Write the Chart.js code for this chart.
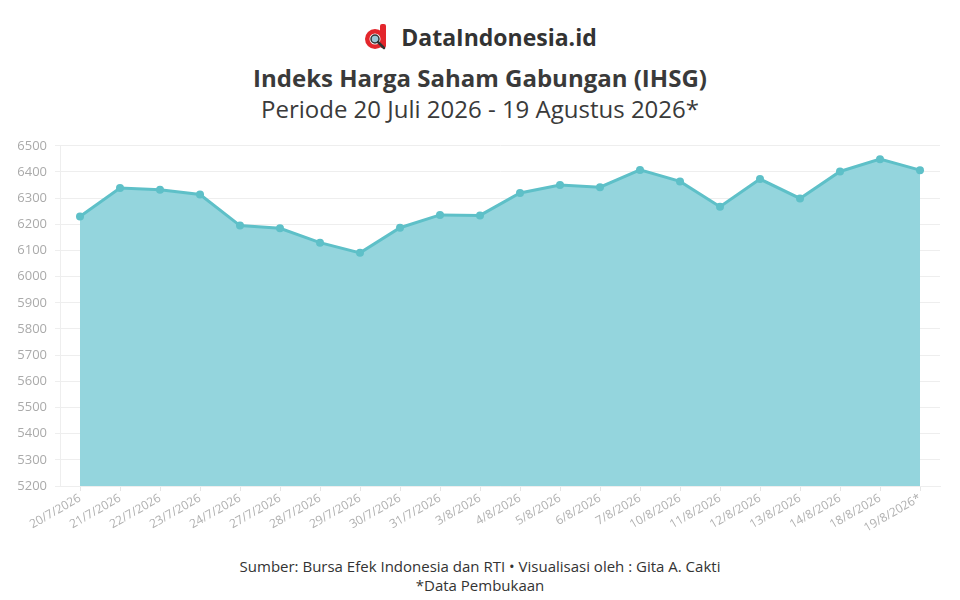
<!DOCTYPE html>
<html>
<head>
<meta charset="utf-8">
<script src="https://cdn.jsdelivr.net/npm/chart.js@4"></script>
<style>
    body { margin: 0; background: #fff; font-family: "Open Sans", sans-serif; }
    .page { position: relative; width: 960px; height: 600px; overflow: hidden; }
    .brand { position: absolute; top: 21px; left: 0; width: 960px; text-align: center; }
    .brand svg { vertical-align: middle; margin-right: 12px; }
    .brand span { vertical-align: middle; font-size: 23px; font-weight: 700; color: #333; }
    .title { position: absolute; top: 61px; width: 960px; text-align: center; font-size: 24px; font-weight: 700; color: #3a3a3a; }
    .subtitle { position: absolute; top: 92px; width: 960px; text-align: center; font-size: 24px; color: #3a3a3a; }
    .chart-box { position: absolute; top: 130px; left: 0; width: 960px; height: 415px; }
    .footer { position: absolute; top: 557px; width: 960px; text-align: center; font-size: 15px; color: #333; line-height: 19px; }
</style>
</head>
<body>
<div class="page">
    <div class="brand">
        <svg width="26" height="28" viewBox="0 0 26 28">
            <rect x="17" y="1" width="6" height="24" rx="2" fill="#e3262c"/>
            <circle cx="12" cy="16" r="10" fill="#e3262c"/>
            <circle cx="12" cy="16" r="5.5" fill="#fff"/>
            <circle cx="12" cy="16" r="4" fill="#9cc8d8" stroke="#333" stroke-width="1.5"/>
            <line x1="15" y1="19" x2="21" y2="25" stroke="#333" stroke-width="2.5" stroke-linecap="round"/>
        </svg><span>DataIndonesia.id</span>
    </div>
    <div class="title">Indeks Harga Saham Gabungan (IHSG)</div>
    <div class="subtitle">Periode 20 Juli 2026 - 19 Agustus 2026*</div>
    <div class="chart-box"><canvas id="ihsg-chart"></canvas></div>
    <div class="footer">Sumber: Bursa Efek Indonesia dan RTI • Visualisasi oleh : Gita A. Cakti<br>*Data Pembukaan</div>
</div>
<script>
// Data
const dates = [
    '20/7/2026', '21/7/2026', '22/7/2026', '23/7/2026', '24/7/2026', '27/7/2026',
    '28/7/2026', '29/7/2026', '30/7/2026', '31/7/2026', '3/8/2026', '4/8/2026',
    '5/8/2026', '6/8/2026', '7/8/2026', '10/8/2026', '11/8/2026', '12/8/2026',
    '13/8/2026', '14/8/2026', '18/8/2026', '19/8/2026*'
];
const ihsgValues = [
    6230, 6339, 6332, 6314, 6195, 6185,
    6130, 6091, 6187, 6236, 6234, 6320,
    6350, 6342, 6408, 6364, 6267, 6373,
    6299, 6402, 6449, 6407
];
const yMin = 5200;
const yMax = 6500;
const yStep = 100;

const ctx = document.getElementById('ihsg-chart');
new Chart(ctx, {
    type: 'line',
    data: {
        labels: dates,
        datasets: [{
            data: ihsgValues,
            borderColor: '#5ec0c8',
            backgroundColor: '#94d5dd',
            borderWidth: 3,
            pointRadius: 4,
            pointBackgroundColor: '#5ec0c8',
            pointBorderWidth: 0,
            fill: true,
            tension: 0
        }]
    },
    options: {
        responsive: true,
        maintainAspectRatio: false,
        animation: false,
        layout: { padding: { top: 15, right: 20, left: 0, bottom: 0 } },
        plugins: {
            legend: { display: false },
            tooltip: { enabled: false }
        },
        scales: {
            x: {
                offset: true,
                grid: {
                    drawOnChartArea: false,
                    color: '#e6e6e6',
                    tickLength: 5
                },
                border: { color: '#eeeeee' },
                ticks: {
                    autoSkip: false,
                    minRotation: 30,
                    maxRotation: 30,
                    color: '#b0b0b0',
                    font: { family: 'Open Sans', size: 12 },
                    padding: 0
                },
                afterFit(scale) { scale.height = 59; }
            },
            y: {
                min: yMin,
                max: yMax,
                grid: { color: '#eeeeee', tickLength: 5 },
                border: { color: '#eeeeee' },
                ticks: {
                    stepSize: yStep,
                    color: '#aaaaaa',
                    padding: 8,
                    font: { family: 'Open Sans', size: 13 },
                    callback: value => String(value)
                },
                afterFit(scale) { scale.width = 60; }
            }
        }
    }
});
</script>
</body>
</html>
